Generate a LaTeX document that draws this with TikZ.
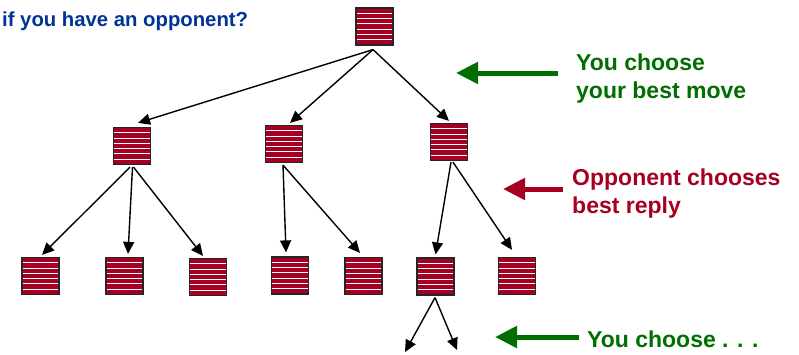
\documentclass[tikz,border=0pt]{standalone}
\usepackage{fontspec}
\setmainfont{Liberation Sans}
\usetikzlibrary{arrows.meta,calc}
\definecolor{crimson}{RGB}{165,0,33}
\definecolor{dgreen}{RGB}{0,110,0}
\definecolor{tblue}{RGB}{0,51,153}
\tikzset{
  board/.style={draw=black!85, line width=1.2pt, fill=crimson, minimum size=37pt, inner sep=0pt,
    path picture={\foreach \k in {1,...,6}{\draw[white,line width=0.9pt]
      ($(path picture bounding box.north west)!\k/7!(path picture bounding box.south west)$) --
      ($(path picture bounding box.north east)!\k/7!(path picture bounding box.south east)$);}}},
  conn/.style={line width=1.4pt, draw=black, -{Triangle[length=12pt,width=11pt]}},
  bigarrow/.style={line width=5pt, -{Triangle[length=22pt,width=21pt]}},
  note/.style={anchor=base west, inner sep=0pt, align=left, font=\bfseries\fontsize{23}{27.5}\selectfont},
}
\begin{document}
\begin{tikzpicture}[x=1pt,y=-1pt]
\useasboundingbox (0,0) rectangle (799,354);
% title
\node[anchor=base west, inner sep=0pt, text=tblue, font=\bfseries\fontsize{20.3}{24}\selectfont] (title) at (2,26) {if you have an opponent?};
% boxes
\node[board] (root) at (374.5,26.5) {};
\node[board] (A) at (132,146) {};
\node[board] (B) at (284,144) {};
\node[board] (C) at (449,142) {};
\node[board] (n1) at (40.5,276) {};
\node[board] (n2) at (124.5,276) {};
\node[board] (n3) at (208,277) {};
\node[board] (n4) at (290,275.5) {};
\node[board] (n5) at (363.5,276) {};
\node[board] (n6) at (435.5,276.5) {};
\node[board] (n7) at (517,276) {};
\coordinate (e1) at (405,352);
\coordinate (e2) at (457,350);
% connectors
\draw[conn] ([xshift=-1.5pt,yshift=-4pt]root.south) -- ([xshift=6pt,yshift=4pt]A.north);
\draw[conn] ([xshift=-1.5pt,yshift=-4pt]root.south) -- ([xshift=6pt,yshift=2pt]B.north);
\draw[conn] ([xshift=-1.5pt,yshift=-4pt]root.south) -- ([yshift=2pt]C.north);
\draw[conn] ([xshift=-2pt,yshift=-2pt]A.south) -- ([xshift=1.5pt,yshift=2pt]n1.north);
\draw[conn] ([xshift=0.5pt,yshift=-2pt]A.south) -- ([xshift=3.5pt,yshift=3pt]n2.north);
\draw[conn] ([xshift=1.5pt,yshift=-2pt]A.south) -- ([xshift=-5pt,yshift=2pt]n3.north);
\draw[conn] ([xshift=-1pt,yshift=-2pt]B.south) -- ([xshift=-4pt,yshift=4pt]n4.north);
\draw[conn] ([xshift=-1pt,yshift=-2pt]B.south) -- ([xshift=-3.5pt,yshift=4pt]n5.north);
\draw[conn] ([xshift=2pt,yshift=-1pt]C.south) -- ([yshift=3pt]n6.north);
\draw[conn] ([xshift=4pt,yshift=-1pt]C.south) -- ([xshift=-5pt,yshift=7pt]n7.north);
\draw[conn] ([xshift=-0.5pt,yshift=-2pt]n6.south) -- (e1);
\draw[conn] ([xshift=-0.5pt,yshift=-2pt]n6.south) -- (e2);
% side notes (anchor = baseline of last line)
\node[note, text=dgreen] (t1) at (576,98) {You choose\\your best move};
\node[note, text=crimson] (t2) at (572,213) {Opponent chooses\\best reply};
\node[note, text=dgreen] (t3) at (587,347) {You choose . . .};
\coordinate (s1) at (558,73);  \coordinate (h1) at (456,73);
\coordinate (s2) at (563,189); \coordinate (h2) at (503,189);
\coordinate (s3) at (579,337); \coordinate (h3) at (495,337);
\draw[bigarrow, draw=dgreen, fill=dgreen] (s1) -- (h1);
\draw[bigarrow, draw=crimson, fill=crimson] (s2) -- (h2);
\draw[bigarrow, draw=dgreen, fill=dgreen] (s3) -- (h3);
\end{tikzpicture}
\end{document}
